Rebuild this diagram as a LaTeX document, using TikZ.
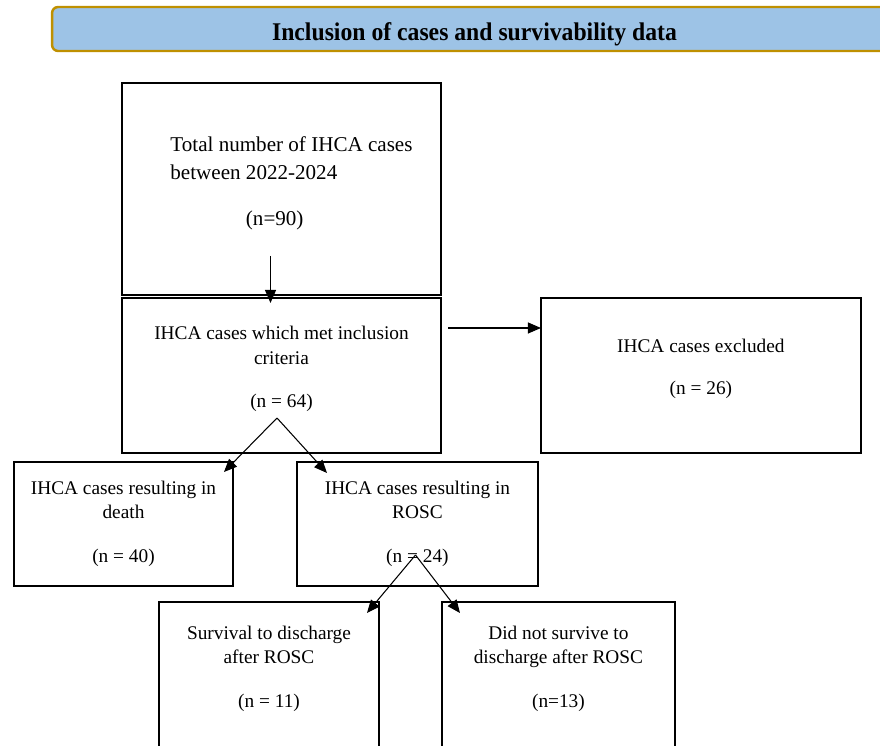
\documentclass[tikz,border=0pt]{standalone}
\usepackage{fontspec}
\setmainfont{Liberation Serif}
\usetikzlibrary{arrows.meta,positioning}

\definecolor{headfill}{HTML}{9DC3E6}
\definecolor{headline}{HTML}{BF9000}

\begin{document}
\begin{tikzpicture}
[x=0.02cm, y=-0.02cm, font=\fontsize{11}{14}\selectfont,
% STYLES
% The header style is used for the banner on top
header/.style={rectangle, rounded corners=0.12cm, draw=headline, line width=1.4pt, fill=headfill, minimum width=16.9cm, minimum height=0.88cm, inner sep=0pt, text height=13.3pt, text depth=0pt, font=\bfseries\fontsize{14.5}{17}\selectfont\addfontfeature{FakeStretch=0.93}},
% The box style is used to draw the stages of the flow
box/.style={rectangle, draw, line width=1.1pt, inner sep=0pt, outer sep=0pt, align=center},
% The link style is used for the arrows between stages
link/.style={-{Triangle[length=0.26cm,width=0.22cm]}, line width=0.6pt}]

\useasboundingbox (0,0) rectangle (880,746);
\clip (0,0) rectangle (880,746);

% Header
\node [header] (title) at (474.5,29) {Inclusion of cases and survivability data};

% Draw stages
\node [box, align=left, minimum width=6.38cm, minimum height=4.24cm, font=\fontsize{12}{16.4}\selectfont] (total) at (281.5,189)
  {\hspace*{0.4cm}Total number of IHCA cases\\\hspace*{0.4cm}between 2022-2024\\[9.6pt]\hspace*{1.91cm}(n=90)\\[-7.2pt]\mbox{}};
\node [box, minimum width=6.38cm, minimum height=3.1cm, below=0.06cm of total] (met)
  {IHCA cases which met inclusion\\criteria\\[11pt](n = 64)\\[-4.4pt]\mbox{}};
\node [box, minimum width=6.4cm, minimum height=3.1cm, right=2cm of met] (excluded)
  {IHCA cases excluded\\[10pt](n = 26)\\[-4.4pt]\mbox{}};
\node [box, minimum width=4.38cm, minimum height=2.48cm] (death) at (123.5,524)
  {IHCA cases resulting in\\death\\[11pt](n = 40)\\[-11.4pt]\mbox{}};
\node [box, minimum width=4.82cm, minimum height=2.48cm, right=1.28cm of death] (rosc)
  {IHCA cases resulting in\\ROSC\\[11pt](n = 24)\\[-11.4pt]\mbox{}};
\node [box, minimum width=4.4cm, minimum height=3.04cm] (survival) at (269,678)
  {Survival to discharge\\after ROSC\\[11pt](n = 11)\\[-1.1pt]\mbox{}};
\node [box, minimum width=4.66cm, minimum height=3.04cm, right=1.26cm of survival] (notsurvived)
  {Did not survive to\\discharge after ROSC\\[11pt](n=13)\\[-1.1pt]\mbox{}};

% Points where the links start
\coordinate (drop) at (270.5,256);
\coordinate (out) at (448,328);
\coordinate (fork1) at (277,418);
\coordinate (fork2) at (415.5,555);

% Draw the links between stages
\draw [link, shorten >=-0.1cm] (drop) -- (drop |- met.north);
\draw [link] (out) -- (out -| excluded.west);
\draw [link] (fork1) -- ([shift={(-9,10)}]death.north east);
\draw [link] (fork1) -- ([shift={(30,11)}]rosc.north west);
\draw [link] (fork2) -- ([shift={(-12,11)}]survival.north east);
\draw [link] (fork2) -- ([shift={(18,11)}]notsurvived.north west);

\end{tikzpicture}
\end{document}
